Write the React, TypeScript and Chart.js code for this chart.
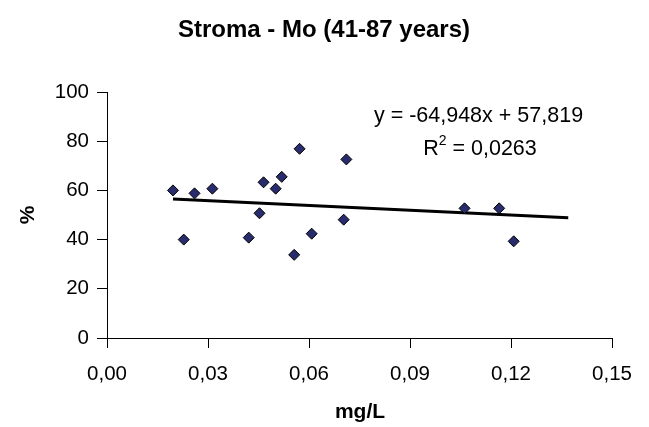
import React, { useEffect, useRef } from "react";
import { Chart, registerables } from "chart.js";

Chart.register(...registerables);

const titleText = "Stroma - Mo (41-87 years)";
const xAxisTitle = "mg/L";
const yAxisTitle = "%";
const equationText = "y = -64,948x + 57,819";
const r2Value = "0,0263";

const xValues = [0.0196, 0.0228, 0.026, 0.0313, 0.0421, 0.0453, 0.0465, 0.0501, 0.0519, 0.0556, 0.0572, 0.0608, 0.0703, 0.0711, 0.1062, 0.1165, 0.1208];
const yValues = [60.0, 40.0, 58.8, 60.7, 40.8, 50.7, 63.3, 60.7, 65.5, 33.8, 76.9, 42.4, 48.1, 72.6, 52.7, 52.7, 39.3];

const trendX = [0.0196, 0.137];
const trendY = [56.5, 48.9];

const xTicks = [0, 0.03, 0.06, 0.09, 0.12, 0.15];
const xTickLabels = ["0,00", "0,03", "0,06", "0,09", "0,12", "0,15"];
const yTicks = [0, 20, 40, 60, 80, 100];
const yTickLabels = ["0", "20", "40", "60", "80", "100"];

const FONT = "'Liberation Sans', Arial, sans-serif";

const textPlugin = {
  id: "customText",
  afterDraw(chart: any) {
    const ctx = chart.ctx as CanvasRenderingContext2D;
    ctx.save();
    ctx.fillStyle = "#000";
    ctx.textBaseline = "alphabetic";
    // title
    ctx.font = `bold 24px ${FONT}`;
    ctx.textAlign = "center";
    ctx.fillText(titleText, 324, 37);
    // x axis title
    ctx.font = `bold 21px ${FONT}`;
    ctx.fillText(xAxisTitle, 360, 418);
    // y axis title rotated
    ctx.save();
    ctx.translate(34, 215);
    ctx.rotate(-Math.PI / 2);
    ctx.textAlign = "center";
    ctx.fillText(yAxisTitle, 0, 0);
    ctx.restore();
    // equation
    ctx.font = `21.5px ${FONT}`;
    ctx.textAlign = "center";
    ctx.fillText(equationText, 478.5, 122);
    // R^2 line
    const rest = " = " + r2Value;
    ctx.textAlign = "left";
    const wR = ctx.measureText("R").width;
    ctx.font = `14px ${FONT}`;
    const w2 = ctx.measureText("2").width;
    ctx.font = `21.5px ${FONT}`;
    const wRest = ctx.measureText(rest).width;
    const total = wR + w2 + wRest;
    let x = 480 - total / 2;
    ctx.fillText("R", x, 155);
    x += wR;
    ctx.font = `14px ${FONT}`;
    ctx.fillText("2", x, 145);
    x += w2;
    ctx.font = `21.5px ${FONT}`;
    ctx.fillText(rest, x, 155);
    ctx.restore();
  },
};

export default function App() {
  const ref = useRef<HTMLCanvasElement>(null);
  useEffect(() => {
    if (!ref.current) return;
    const chart = new Chart(ref.current, {
      type: "scatter",
      data: {
        datasets: [
          {
            type: "line",
            data: trendX.map((x, i) => ({ x, y: trendY[i] })),
            borderColor: "#000",
            borderWidth: 3,
            pointRadius: 0,
            fill: false,
            order: 2,
          } as any,
          {
            data: xValues.map((x, i) => ({ x, y: yValues[i] })),
            pointStyle: "rectRot",
            pointRadius: 5.5,
            backgroundColor: "#282C6C",
            borderColor: "#000",
            borderWidth: 1,
            order: 1,
          },
        ],
      },
      options: {
        responsive: false,
        animation: false,
        layout: { padding: { top: 92, right: 37, left: 0, bottom: 0 } },
        plugins: { legend: { display: false }, tooltip: { enabled: false }, title: { display: false } },
        scales: {
          x: {
            type: "linear",
            min: 0,
            max: 0.15,
            afterBuildTicks: (s: any) => {
              s.ticks = xTicks.map((v) => ({ value: v }));
            },
            ticks: {
              callback: (_v: any, i: number) => xTickLabels[i],
              color: "#000",
              font: { family: FONT, size: 20.5 },
              padding: 14,
              maxRotation: 0,
            },
            grid: { drawOnChartArea: false, drawTicks: true, tickLength: 10, color: "#000", lineWidth: 1 },
            border: { color: "#000", width: 1 },
            afterFit: (s: any) => {
              s.height = 89;
            },
          },
          y: {
            min: 0,
            max: 100,
            afterBuildTicks: (s: any) => {
              s.ticks = yTicks.map((v) => ({ value: v }));
            },
            ticks: {
              callback: (_v: any, i: number) => yTickLabels[i],
              color: "#000",
              font: { family: FONT, size: 20.5 },
              padding: 8,
            },
            grid: { drawOnChartArea: false, drawTicks: true, tickLength: 10, color: "#000", lineWidth: 1 },
            border: { color: "#000", width: 1 },
            afterFit: (s: any) => {
              s.width = 107;
            },
          },
        },
      },
      plugins: [textPlugin],
    });
    return () => chart.destroy();
  }, []);
  return (
    <div style={{ position: "absolute", left: 0, top: 0, width: 649, height: 427, background: "#fff" }}>
      <canvas ref={ref} width={649} height={427} />
    </div>
  );
}
